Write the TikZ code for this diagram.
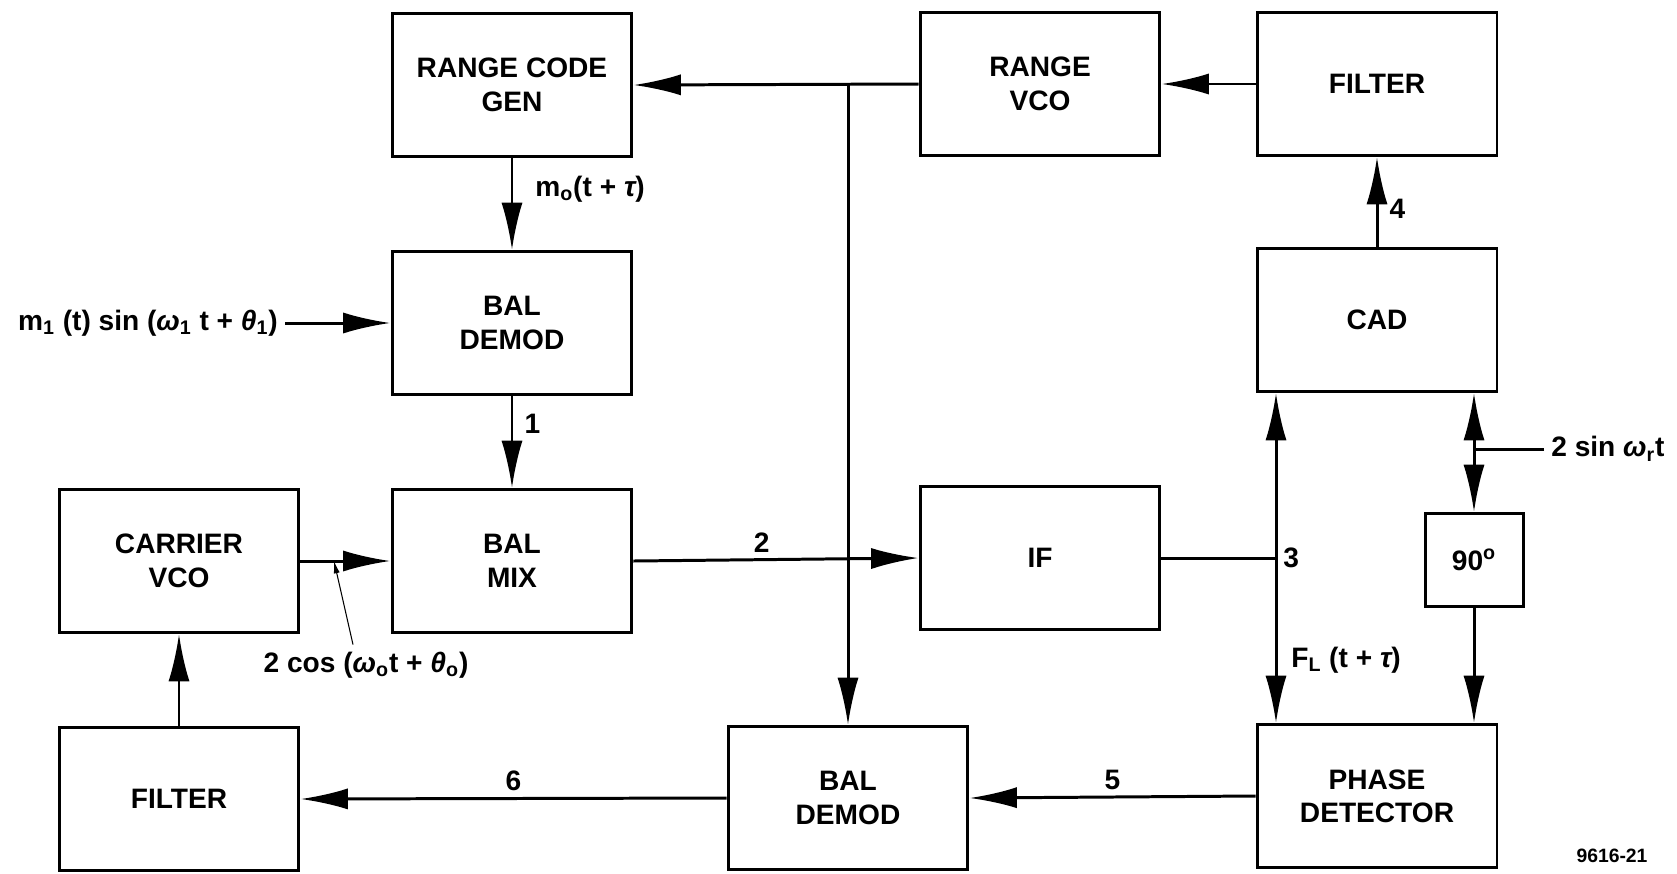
\documentclass[tikz,border=0pt]{standalone}
\usepackage{fontspec}
\setmainfont{Liberation Sans}
\usetikzlibrary{arrows.meta}

\begin{document}
\begin{tikzpicture}[x=0.02cm, y=-0.02cm, line width=1.7pt,
  every node/.style={font=\fontsize{16}{19}\selectfont\bfseries},
  block/.style={draw, minimum width=4.8cm, minimum height=2.86cm, align=center, inner sep=0pt},
  arr/.style={-{Latex[length=27pt,width=12pt]}}]

  \useasboundingbox (0,0) rectangle (1677,873);

  %% Top row
  \node[block] (rcg)   at (512,85)  {RANGE CODE\\GEN};
  \node[block] (rvco)  at (1040,84) {RANGE\\VCO};
  \node[block] (filtr) at (1377,84) {FILTER};

  %% Second row
  \node[block] (dem1) at (512,323)  {BAL\\DEMOD};
  \node[block] (cad)  at (1377,320) {CAD};

  %% Third row
  \node[block] (cvco) at (179,561)  {CARRIER\\VCO};
  \node[block] (bmix) at (512,561)  {BAL\\MIX};
  \node[block] (ifb)  at (1040,558) {IF};
  \node[draw, minimum width=1.96cm, minimum height=1.86cm] (ninety) at (1474,560) {90\textsuperscript{o}};

  %% Bottom row
  \node[block] (filtc) at (179,799)  {FILTER};
  \node[block] (dem2)  at (848,798)  {BAL\\DEMOD};
  \node[block] (pd)    at (1377,796) {PHASE\\DETECTOR};

  % Range loop
  \draw[arr] (rvco.west) -- (rcg.east);
  \coordinate (tap) at (848,84);
  \draw[arr] (tap) -- (dem2.north);
  \draw[arr] (filtr.west) -- (rvco.east);
  \draw[arr] (cad.north) -- (filtr.south) node[pos=0.42, right=3pt] {4};

  % Code path
  \draw[arr] (rcg.south) -- (dem1.north);
  \node[anchor=west] (mlab) at (528,189) {m\textsubscript{o}(t + {\itshape τ})};
  \node (inp) at (148,323) {m\textsubscript{1} (t) sin ({\itshape ω}\textsubscript{1} t + {\itshape θ}\textsubscript{1})};
  \draw[arr] (inp.east) -- (dem1.west);
  \draw[arr] (dem1.south) -- (bmix.north) node[pos=0.3, right=3pt] {1};

  % Carrier path
  \draw[arr] (cvco.east) -- (bmix.west);
  \node (coslab) at (366,665) {2 cos ({\itshape ω}\textsubscript{o}t + {\itshape θ}\textsubscript{o})};
  \coordinate (ptr) at (334,561);
  \draw[line width=0.6pt, -{Latex[length=7pt,width=3.5pt]}] ([xshift=-0.26cm]coslab.north) -- (ptr);
  \draw[arr] (bmix.east) -- (ifb.west) node[pos=0.45, above] {2};

  % IF to CAD and phase detector
  \coordinate (n3) at (ifb.east -| 1276,0);
  \draw (ifb.east) -- (n3) node[right] {3};
  \draw[arr] (n3) -- (cad.south -| n3);
  \draw[arr] (n3) -- (pd.north -| n3);
  \node[anchor=west] (flab) at (1284,660) {F\textsubscript{L} (t + {\itshape τ})};

  % Reference input
  \coordinate (n7) at (1474,449);
  \node[anchor=west] (sinlab) at (1544,449) {2 sin {\itshape ω}\textsubscript{r}t};
  \draw (sinlab.west) -- (n7);
  \draw[arr] (n7) -- (cad.south -| n7);
  \draw[arr] (n7) -- (ninety.north);
  \draw[arr] (ninety.south) -- (pd.north -| ninety);

  % Bottom loop
  \draw[arr] (pd.west) -- (dem2.east) node[midway, above] {5};
  \draw[arr] (dem2.west) -- (filtc.east) node[midway, above] {6};
  \draw[arr] (filtc.north) -- (cvco.south);

  \node[font=\fontsize{11}{13}\selectfont\bfseries] (tag) at (1612,856) {9616-21};

\end{tikzpicture}
\end{document}
